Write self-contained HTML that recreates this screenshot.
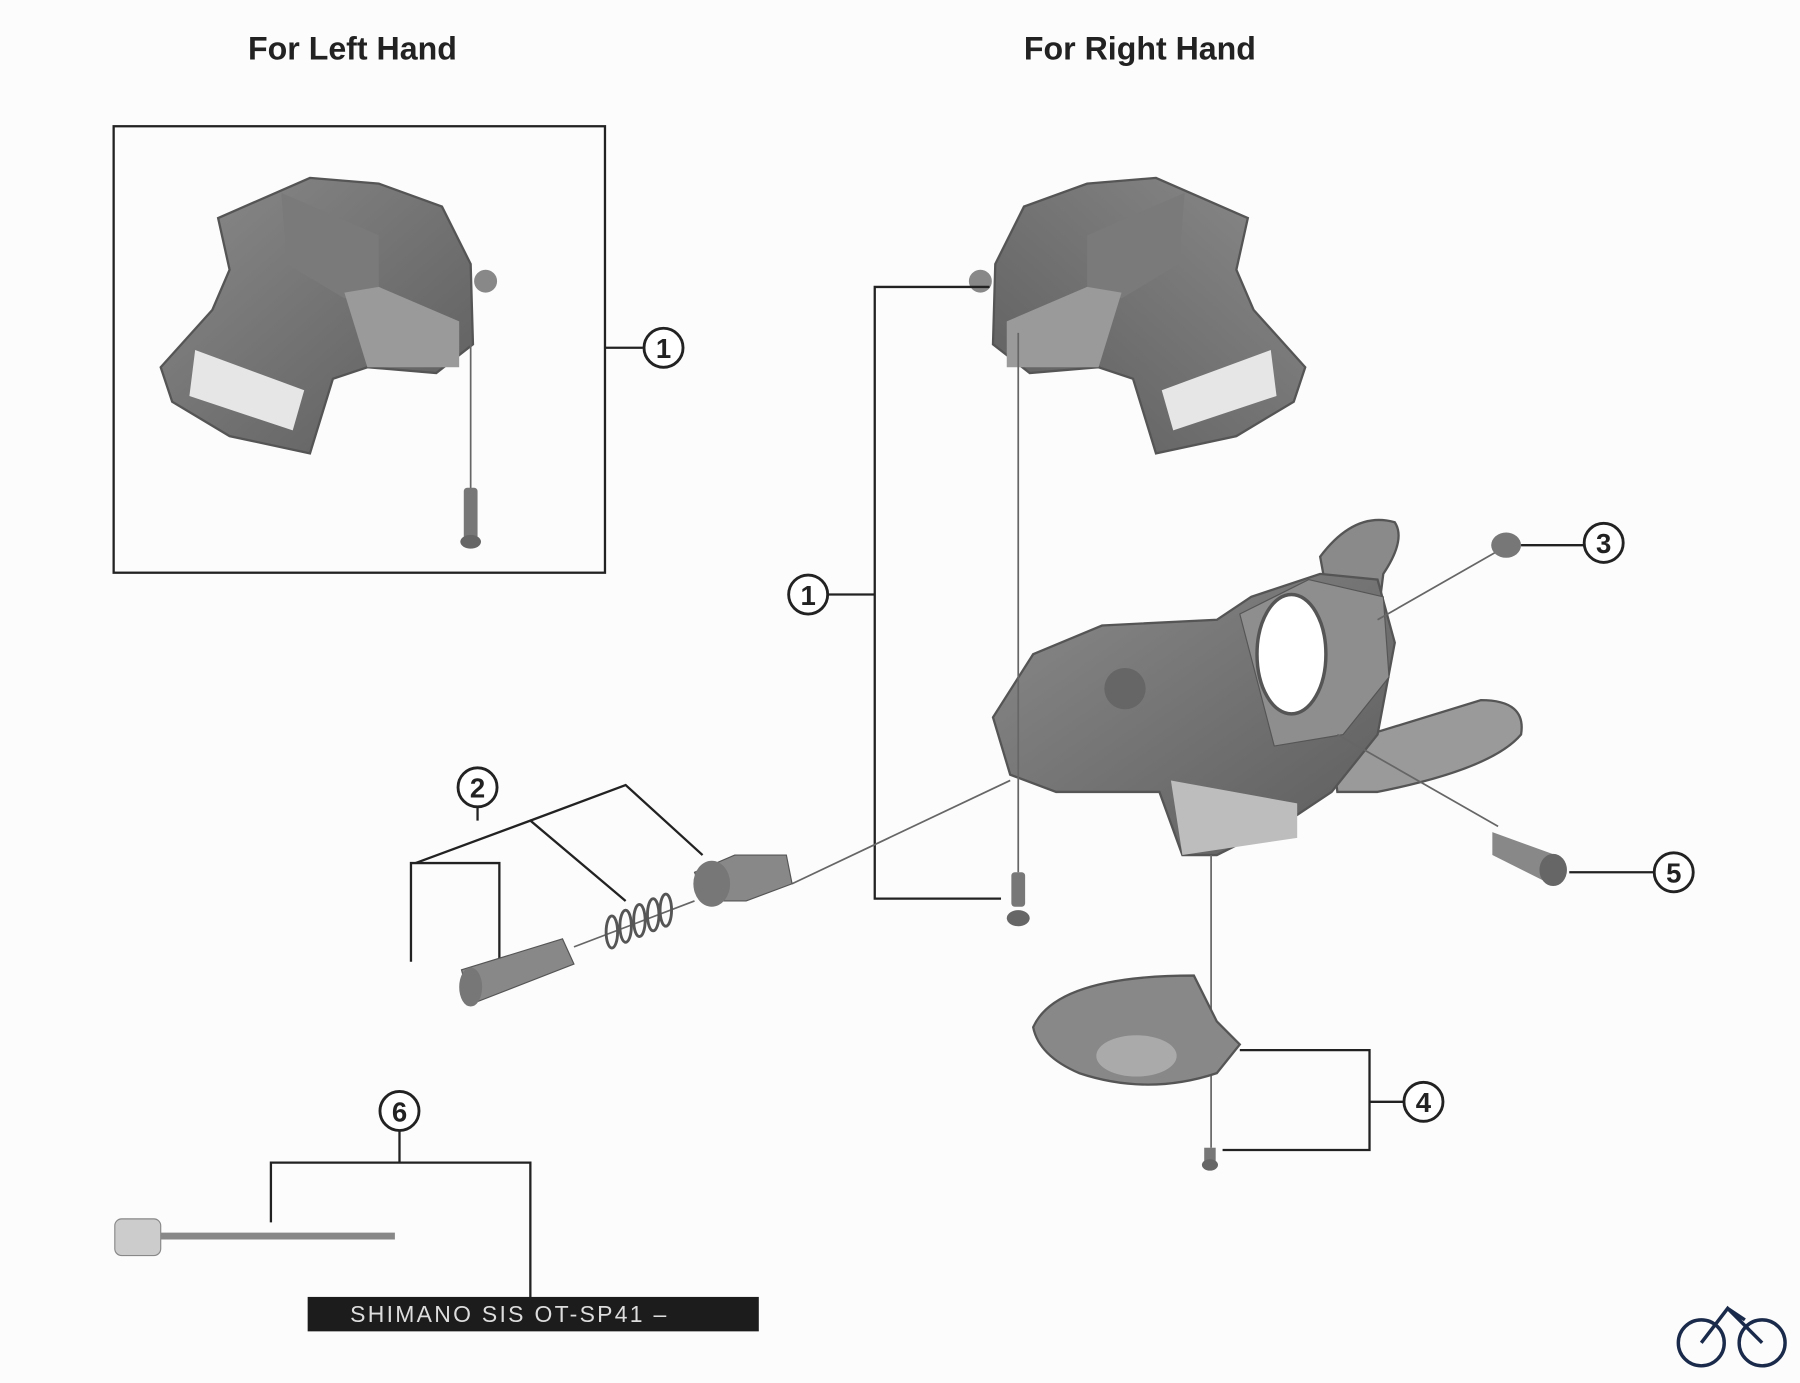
<!DOCTYPE html>
<html><head><meta charset="utf-8"><style>
html,body{margin:0;padding:0;background:#fff;}
svg{display:block;}
text{font-family:"Liberation Sans",sans-serif;}
</style></head><body>
<svg width="1800" height="1383" viewBox="0 0 1568 1205" preserveAspectRatio="none" xmlns="http://www.w3.org/2000/svg">
<rect width="1568" height="1205" fill="#fcfcfc"/>
<text x="307" y="52" font-size="28" font-weight="bold" text-anchor="middle" fill="#222">For Left Hand</text>
<text x="993" y="52" font-size="28" font-weight="bold" text-anchor="middle" fill="#222">For Right Hand</text>
<rect x="99" y="110" width="428" height="389" fill="none" stroke="#222" stroke-width="2"/>
<defs>
<linearGradient id="g1" x1="0" y1="0" x2="1" y2="1"><stop offset="0" stop-color="#8a8a8a"/><stop offset="1" stop-color="#5c5c5c"/></linearGradient>
<g id="cover">
<path d="M190 190 L270 155 L330 160 L385 180 L410 230 L412 300 L380 325 L320 320 L290 330 L270 395 L200 380 L150 350 L140 320 L185 270 L200 235 Z" fill="url(#g1)" stroke="#555" stroke-width="2"/>
<path d="M245 168 L330 205 L330 250 L300 260 L250 230 Z" fill="#7a7a7a"/>
<path d="M300 255 L330 250 L400 280 L400 320 L320 320 Z" fill="#9a9a9a"/>
<path d="M170 305 L265 340 L255 375 L165 345 Z" fill="#e6e6e6"/>
<circle cx="423" cy="245" r="10" fill="#888"/>
</g>
</defs>
<use href="#cover"/>
<use href="#cover" transform="translate(1277,0) scale(-1,1)"/>
<line x1="410" y1="290" x2="410" y2="430" stroke="#666" stroke-width="1.5"/>
<rect x="404" y="425" width="12" height="45" rx="3" fill="#777"/>
<ellipse cx="410" cy="472" rx="9" ry="6" fill="#666"/>
<line x1="527" y1="303" x2="560" y2="303" stroke="#222" stroke-width="2"/>
<g fill="#fff" stroke="#222" stroke-width="2.5">
<circle cx="578" cy="303" r="17"/><circle cx="704" cy="518" r="17"/><circle cx="416" cy="686" r="17"/>
<circle cx="1397" cy="473" r="17"/><circle cx="1458" cy="760" r="17"/><circle cx="1240" cy="960" r="17"/><circle cx="348" cy="968" r="17"/>
</g>
<g font-size="24" font-weight="bold" text-anchor="middle" fill="#222">
<text x="578" y="312">1</text><text x="704" y="527">1</text><text x="416" y="695">2</text><text x="1397" y="482">3</text><text x="1458" y="769">5</text><text x="1240" y="969">4</text><text x="348" y="977">6</text>
</g>
<polyline points="862,250 762,250 762,783 872,783" fill="none" stroke="#222" stroke-width="2"/>
<line x1="721" y1="518" x2="762" y2="518" stroke="#222" stroke-width="2"/>
<!-- upper lever -->
<path d="M1150 485 Q1180 445 1215 455 Q1225 470 1205 500 L1200 540 L1160 540 Z" fill="#8a8a8a" stroke="#555" stroke-width="2"/>
<!-- lower lever -->
<path d="M1160 650 L1290 610 Q1330 610 1325 640 Q1300 670 1200 690 L1165 690 Z" fill="#9a9a9a" stroke="#555" stroke-width="2"/>
<!-- main body -->
<path d="M865 625 L900 570 L960 545 L1060 540 L1090 520 L1150 500 L1200 505 L1215 560 L1200 640 L1160 690 L1130 710 L1060 745 L1030 745 L1010 690 L920 690 L880 675 Z" fill="url(#g1)" stroke="#555" stroke-width="2"/>
<path d="M1080 535 L1140 505 L1205 520 L1210 590 L1170 640 L1110 650 Z" fill="#8e8e8e" stroke="#555"/>
<ellipse cx="1125" cy="570" rx="30" ry="52" fill="#fff" stroke="#555" stroke-width="3"/>
<path d="M1020 680 L1130 700 L1130 730 L1030 745 Z" fill="#bdbdbd"/>
<circle cx="980" cy="600" r="18" fill="#666"/>
<line x1="887" y1="290" x2="887" y2="760" stroke="#666" stroke-width="1.5"/>
<rect x="881" y="760" width="12" height="30" rx="3" fill="#777"/><ellipse cx="887" cy="800" rx="10" ry="7" fill="#666"/>
<line x1="1200" y1="540" x2="1305" y2="480" stroke="#666" stroke-width="1.5"/>
<line x1="1165" y1="640" x2="1305" y2="720" stroke="#666" stroke-width="1.5"/>
<line x1="690" y1="770" x2="880" y2="680" stroke="#666" stroke-width="1.5"/>
<line x1="1055" y1="745" x2="1055" y2="1000" stroke="#666" stroke-width="1.5"/>
<ellipse cx="1312" cy="475" rx="13" ry="11" fill="#777"/>
<line x1="1325" y1="475" x2="1380" y2="475" stroke="#222" stroke-width="2"/>
<path d="M1300 725 L1355 745 L1350 770 L1300 745 Z" fill="#888"/><ellipse cx="1353" cy="758" rx="12" ry="14" fill="#666"/>
<line x1="1367" y1="760" x2="1441" y2="760" stroke="#222" stroke-width="2"/>
<path d="M900 895 Q920 850 1040 850 L1060 890 L1080 910 L1060 935 Q1000 955 940 935 Q905 920 900 895 Z" fill="#888" stroke="#555" stroke-width="2"/>
<ellipse cx="990" cy="920" rx="35" ry="18" fill="#aaa"/>
<rect x="1049" y="1000" width="10" height="12" fill="#777"/><ellipse cx="1054" cy="1015" rx="7" ry="5" fill="#666"/>
<polyline points="1080,915 1193,915 1193,1002 1065,1002" fill="none" stroke="#222" stroke-width="2"/>
<line x1="1193" y1="960" x2="1223" y2="960" stroke="#222" stroke-width="2"/>
<polyline points="358,838 358,752 435,752 435,840" fill="none" stroke="#222" stroke-width="2"/>
<polyline points="362,752 462,715 545,785" fill="none" stroke="#222" stroke-width="2"/>
<polyline points="462,715 545,684 612,745" fill="none" stroke="#222" stroke-width="2"/>
<line x1="416" y1="703" x2="416" y2="715" stroke="#222" stroke-width="2"/>
<path d="M402 845 L490 818 L500 840 L410 875 Z" fill="#888" stroke="#555"/>
<ellipse cx="410" cy="860" rx="10" ry="17" fill="#777"/>
<line x1="500" y1="825" x2="605" y2="785" stroke="#666" stroke-width="1.5"/>
<g fill="none" stroke="#555" stroke-width="2.5">
<ellipse cx="533" cy="812" rx="5" ry="14"/><ellipse cx="545" cy="807" rx="5" ry="14"/><ellipse cx="557" cy="802" rx="5" ry="14"/><ellipse cx="569" cy="797" rx="5" ry="14"/><ellipse cx="580" cy="793" rx="5" ry="14"/>
</g>
<path d="M605 760 L640 745 L685 745 L690 770 L650 785 L615 785 Z" fill="#888" stroke="#555"/>
<ellipse cx="620" cy="770" rx="16" ry="20" fill="#777"/>
<polyline points="236,1065 236,1013 462,1013 462,1132" fill="none" stroke="#222" stroke-width="2"/>
<line x1="348" y1="985" x2="348" y2="1013" stroke="#222" stroke-width="2"/>
<rect x="100" y="1062" width="40" height="32" rx="6" fill="#ccc" stroke="#888"/>
<line x1="140" y1="1077" x2="344" y2="1077" stroke="#888" stroke-width="6"/>
<rect x="268" y="1130" width="393" height="30" fill="#1c1c1c"/>
<text x="305" y="1152" font-size="20" fill="#ddd" letter-spacing="2">SHIMANO SIS  OT-SP41 –</text>
<g fill="none" stroke="#1a2a4a" stroke-width="3">
<circle cx="1482" cy="1170" r="20"/><circle cx="1535" cy="1170" r="20"/>
<path d="M1482 1170 L1505 1140 L1535 1170 M1505 1140 L1520 1150"/>
</g>
</svg>
</body></html>
